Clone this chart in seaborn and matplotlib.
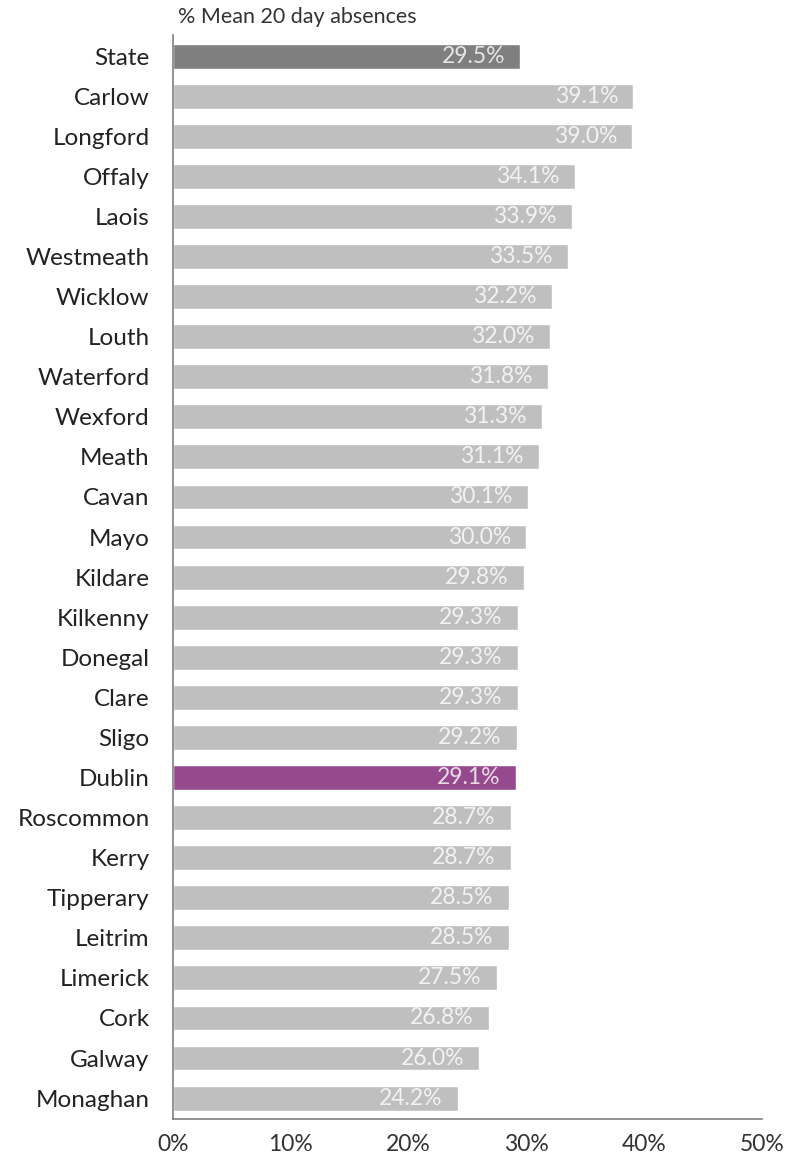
import matplotlib
matplotlib.use("Agg")
import matplotlib.pyplot as plt
from matplotlib.ticker import PercentFormatter
import seaborn as sns
import pandas as pd

# данные
counties = ["State", "Carlow", "Longford", "Offaly", "Laois", "Westmeath", "Wicklow",
            "Louth", "Waterford", "Wexford", "Meath", "Cavan", "Mayo", "Kildare",
            "Kilkenny", "Donegal", "Clare", "Sligo", "Dublin", "Roscommon", "Kerry",
            "Tipperary", "Leitrim", "Limerick", "Cork", "Galway", "Monaghan"]
absences = [29.5, 39.1, 39.0, 34.1, 33.9, 33.5, 32.2, 32.0, 31.8, 31.3, 31.1, 30.1,
            30.0, 29.8, 29.3, 29.3, 29.3, 29.2, 29.1, 28.7, 28.7, 28.5, 28.5, 27.5,
            26.8, 26.0, 24.2]

df = pd.DataFrame({"county": counties, "value": absences})

# цвета столбцов
palette = {c: "#bfbfbf" for c in counties}
palette["State"] = "#7f7f7f"
palette["Dublin"] = "#944a8c"

sns.set_style("white")
plt.rcParams["font.family"] = ["Lato", "DejaVu Sans"]

fig = plt.figure(figsize=(7.87, 11.64), dpi=100)
ax = fig.add_axes([0.22, 0.0387, 0.748, 0.931])

sns.barplot(data=df, x="value", y="county", hue="county", palette=palette,
            orient="h", width=0.62, legend=False, saturation=1, ax=ax)

# подписи внутри столбцов
for i, v in enumerate(absences):
    ax.text(v - 1.3, i, f"{v:.1f}%", ha="right", va="center",
            fontsize=16.5, color="white", alpha=0.8)

ax.set_xlim(0, 50)
ax.set_ylim(26.52, -0.52)
ax.set_xticks([0, 10, 20, 30, 40, 50])
ax.xaxis.set_major_formatter(PercentFormatter(decimals=0))
ax.set_xlabel("")
ax.set_ylabel("")
ax.tick_params(axis="x", labelsize=16.5, pad=11, length=0, colors="#333333")
ax.tick_params(axis="y", labelsize=17.5, pad=17, length=0, colors="#222222")

for s in ["top", "right"]:
    ax.spines[s].set_visible(False)
for s in ["left", "bottom"]:
    ax.spines[s].set_color("#7f7f7f")
    ax.spines[s].set_linewidth(1.2)

fig.text(0.226, 0.985, "% Mean 20 day absences", ha="left", va="center",
         fontsize=15.5, color="#333333")

fig.savefig("out.png", dpi=100)
